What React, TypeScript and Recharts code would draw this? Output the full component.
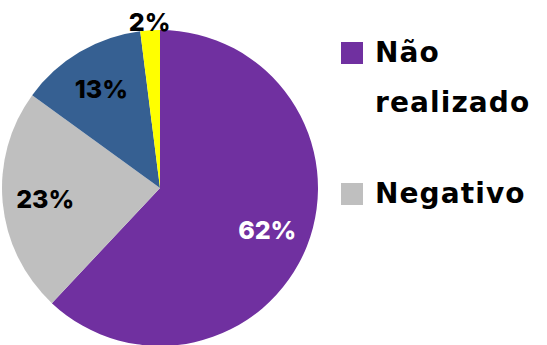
import { PieChart, Pie, Cell, Legend } from "recharts";

const categories = ["Não realizado", "Negativo", "Positivo", "Inconclusivo"];
const values = [62, 23, 13, 2];
const colors = ["#7030A0", "#BFBFBF", "#366092", "#FFFF00"];
const labelColors = ["#ffffff", "#000000", "#000000", "#000000"];
// only the first two entries fit in the legend box of the original
const legendShown = 2;

const data = categories.map((name, i) => ({ name, value: values[i] }));

const FONT = "Inter, 'Open Sans', sans-serif";
const LEGEND_FONT = "'DejaVu Sans', sans-serif";
const RAD = Math.PI / 180;

function renderLabel(props: any) {
  const { cx, cy, midAngle, outerRadius, percent, index } = props;
  const r = percent < 0.05 ? outerRadius + 8 : outerRadius * 0.73;
  const x = cx + r * Math.cos(-midAngle * RAD);
  const y = cy + r * Math.sin(-midAngle * RAD);
  return (
    <text
      x={x}
      y={y}
      fill={labelColors[index]}
      textAnchor="middle"
      dominantBaseline="central"
      fontFamily={FONT}
      fontWeight={800}
      fontSize={25}
    >
      {`${Math.round(percent * 100)}%`}
    </text>
  );
}

function LegendContent() {
  return (
    <div
      style={{
        fontFamily: LEGEND_FONT,
        fontWeight: 700,
        fontSize: 28,
        letterSpacing: 1.1,
        color: "#000",
      }}
    >
      {data.slice(0, legendShown).map((d, i) => (
        <div key={d.name} style={{ display: "flex", alignItems: "flex-start", marginBottom: 41 }}>
          <div
            style={{
              width: 22,
              height: 22,
              background: colors[i],
              marginTop: 14,
              marginRight: 12,
              flexShrink: 0,
            }}
          />
          <div style={{ lineHeight: "50px", width: 180 }}>{d.name}</div>
        </div>
      ))}
    </div>
  );
}

export default function App() {
  return (
    <div style={{ position: "absolute", left: 0, top: 0, width: 547, height: 345, background: "#fff" }}>
      <PieChart width={547} height={345} margin={{ top: 0, right: 0, bottom: 0, left: 0 }}>
        <Pie
          data={data}
          dataKey="value"
          nameKey="name"
          cx={160}
          cy={188}
          outerRadius={158}
          startAngle={90}
          endAngle={-270}
          stroke="none"
          label={renderLabel}
          labelLine={false}
          isAnimationActive={false}
        >
          {data.map((d, i) => (
            <Cell key={d.name} fill={colors[i]} />
          ))}
        </Pie>
        <Legend
          layout="vertical"
          verticalAlign="top"
          align="right"
          content={<LegendContent />}
          wrapperStyle={{ left: 341, top: 28, width: 206 }}
        />
      </PieChart>
    </div>
  );
}
